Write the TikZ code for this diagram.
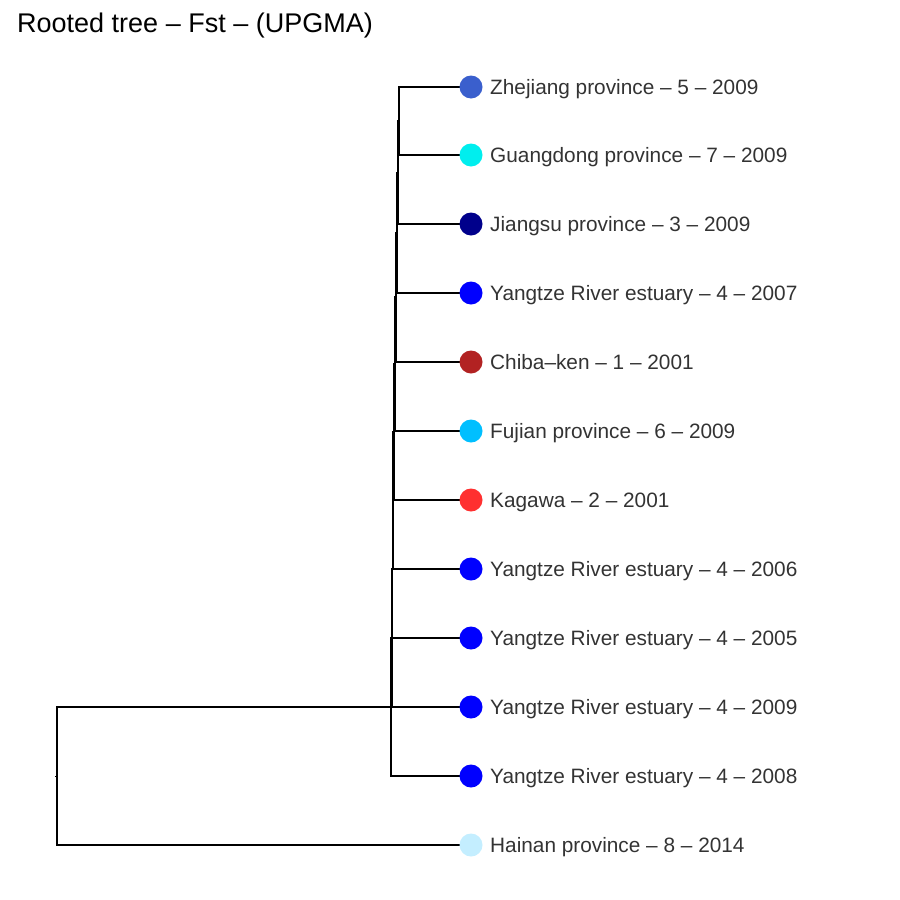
\documentclass[tikz,border=0pt]{standalone}
\usepackage{fontspec}
\setmainfont{Liberation Sans}
\begin{document}
\begin{tikzpicture}[x=1pt,y=-1pt,
  branch/.style={line width=1.9pt,line cap=rect,black},
  tip/.style={circle,inner sep=0pt,minimum size=23pt,draw=none,fill=#1},
  tiplabel/.style={anchor=base west,inner sep=0pt,text=black!80,font=\fontsize{20.8}{24}\selectfont},
  ttl/.style={anchor=base west,inner sep=0pt,font=\fontsize{27}{32}\selectfont}]
\useasboundingbox (0,0) rectangle (900,900);
\definecolor{zj}{HTML}{3A5FCD}
\definecolor{gd}{HTML}{00EEEE}
\definecolor{js}{HTML}{00008B}
\definecolor{yz}{HTML}{0000FF}
\definecolor{cb}{HTML}{B22222}
\definecolor{fj}{HTML}{00BFFF}
\definecolor{kg}{HTML}{FF3030}
\definecolor{hn}{HTML}{C4EEFF}

\node[ttl] (title) at (17,32) {Rooted tree – Fst – (UPGMA)};

% internal nodes (x = height, y = mean of children)
\coordinate (n1)  at (398.6,121.0);
\coordinate (n2)  at (397.9,172.5);
\coordinate (n3)  at (397.2,232.8);
\coordinate (n4)  at (396.3,297.4);
\coordinate (n5)  at (395.3,364.2);
\coordinate (n6)  at (394.4,432.1);
\coordinate (n7)  at (393.4,500.5);
\coordinate (n8)  at (392.5,569.3);
\coordinate (n9)  at (391.6,638.1);
\coordinate (n10) at (390.7,707.1);
\coordinate (root) at (56.7,776.0);
\coordinate (rootend) at (54.5,776.0);

% branches
\draw[branch] (n1) |- (471,87) (n1) |- (471,155);
\draw[branch] (n2) |- (n1) (n2) |- (471,224);
\draw[branch] (n3) |- (n2) (n3) |- (471,293);
\draw[branch] (n4) |- (n3) (n4) |- (471,362);
\draw[branch] (n5) |- (n4) (n5) |- (471,431);
\draw[branch] (n6) |- (n5) (n6) |- (471,500);
\draw[branch] (n7) |- (n6) (n7) |- (471,569);
\draw[branch] (n8) |- (n7) (n8) |- (471,638);
\draw[branch] (n9) |- (n8) (n9) |- (471,707);
\draw[branch] (n10) |- (n9) (n10) |- (471,776);
\draw[branch] (root) |- (n10) (root) |- (471,845);
\draw[line width=1pt] (root) -- (rootend);

% tips
\node[tip=zj] (t1)  at (471,87)  {};
\node[tip=gd] (t2)  at (471,155) {};
\node[tip=js] (t3)  at (471,224) {};
\node[tip=yz] (t4)  at (471,293) {};
\node[tip=cb] (t5)  at (471,362) {};
\node[tip=fj] (t6)  at (471,431) {};
\node[tip=kg] (t7)  at (471,500) {};
\node[tip=yz] (t8)  at (471,569) {};
\node[tip=yz] (t9)  at (471,638) {};
\node[tip=yz] (t10) at (471,707) {};
\node[tip=yz] (t11) at (471,776) {};
\node[tip=hn] (t12) at (471,845) {};

% tip labels
\node[tiplabel] (l1)  at (490,94.5)  {Zhejiang province – 5 – 2009};
\node[tiplabel] (l2)  at (490,162.5) {Guangdong province – 7 – 2009};
\node[tiplabel] (l3)  at (490,231.5) {Jiangsu province – 3 – 2009};
\node[tiplabel] (l4)  at (490,300.5) {Yangtze River estuary – 4 – 2007};
\node[tiplabel] (l5)  at (490,369.5) {Chiba–ken – 1 – 2001};
\node[tiplabel] (l6)  at (490,438.5) {Fujian province – 6 – 2009};
\node[tiplabel] (l7)  at (490,507.5) {Kagawa – 2 – 2001};
\node[tiplabel] (l8)  at (490,576.5) {Yangtze River estuary – 4 – 2006};
\node[tiplabel] (l9)  at (490,645.5) {Yangtze River estuary – 4 – 2005};
\node[tiplabel] (l10) at (490,714.5) {Yangtze River estuary – 4 – 2009};
\node[tiplabel] (l11) at (490,783.5) {Yangtze River estuary – 4 – 2008};
\node[tiplabel] (l12) at (490,852.5) {Hainan province – 8 – 2014};
\end{tikzpicture}
\end{document}
